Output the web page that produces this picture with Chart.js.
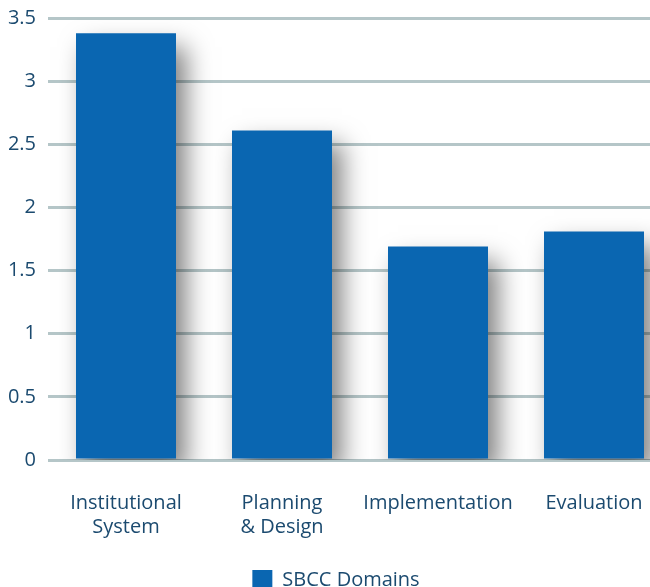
<!DOCTYPE html>
<html>
<head>
<meta charset="utf-8">
<script src="https://cdn.jsdelivr.net/npm/chart.js@4/dist/chart.umd.min.js"></script>
<style>
  html, body { margin: 0; padding: 0; overflow: hidden; background: #fff; }
  #wrap { width: 672px; height: 600px; position: relative; }
</style>
</head>
<body>
<div id="wrap"><canvas id="c"></canvas></div>
<script>
const categories = [["Institutional", "System"], ["Planning", "& Design"], "Implementation", "Evaluation"];
const seriesName = "SBCC Domains";
const values = [3.38, 2.61, 1.69, 1.81];
const yTicks = [0, 0.5, 1, 1.5, 2, 2.5, 3, 3.5];

const textColor = "#1b4a6f";
const barColor = "#0a66b1";
const gridColor = "#b5c6c8";
const fontFamily = "'Open Sans', 'Noto Sans', sans-serif";

const shadowPlugin = {
  id: "barShadow",
  beforeDatasetsDraw(chart) {
    const ctx = chart.ctx;
    ctx.save();
    ctx.shadowColor = "rgba(0,0,0,0.5)";
    ctx.shadowBlur = 24;
    ctx.shadowOffsetX = 10;
    ctx.shadowOffsetY = 14;
  },
  afterDatasetsDraw(chart) {
    chart.ctx.restore();
  }
};

new Chart(document.getElementById("c"), {
  type: "bar",
  data: {
    labels: categories,
    datasets: [{
      label: seriesName,
      data: values,
      backgroundColor: barColor,
      borderWidth: 0,
      barPercentage: 1,
      categoryPercentage: 100 / 156
    }]
  },
  options: {
    responsive: true,
    maintainAspectRatio: false,
    animation: false,
    layout: { padding: { top: 18, right: 0, bottom: 0, left: 0 } },
    plugins: {
      tooltip: { enabled: false },
      legend: {
        position: "bottom",
        labels: {
          color: textColor,
          font: { family: fontFamily, size: 20 },
          boxWidth: 20,
          boxHeight: 20,
          padding: 7
        }
      }
    },
    scales: {
      x: {
        afterFit(scale) { scale.height += 1; },
        grid: { display: false },
        border: { display: false },
        ticks: {
          color: textColor,
          font: { family: fontFamily, size: 20, lineHeight: 1.2 },
          padding: 23,
          maxRotation: 0,
          autoSkip: false
        }
      },
      y: {
        min: 0,
        max: 3.5,
        afterFit(scale) { scale.width = 48; scale.paddingTop = 0; scale.paddingBottom = 0; },
        afterBuildTicks(scale) { scale.ticks = yTicks.map(v => ({ value: v })); },
        grid: { color: gridColor, lineWidth: 3, drawTicks: false },
        border: { display: false },
        ticks: {
          color: textColor,
          font: { family: fontFamily, size: 20 },
          padding: 12,
          callback: v => String(v)
        }
      }
    }
  },
  plugins: [shadowPlugin]
});
</script>
</body>
</html>
